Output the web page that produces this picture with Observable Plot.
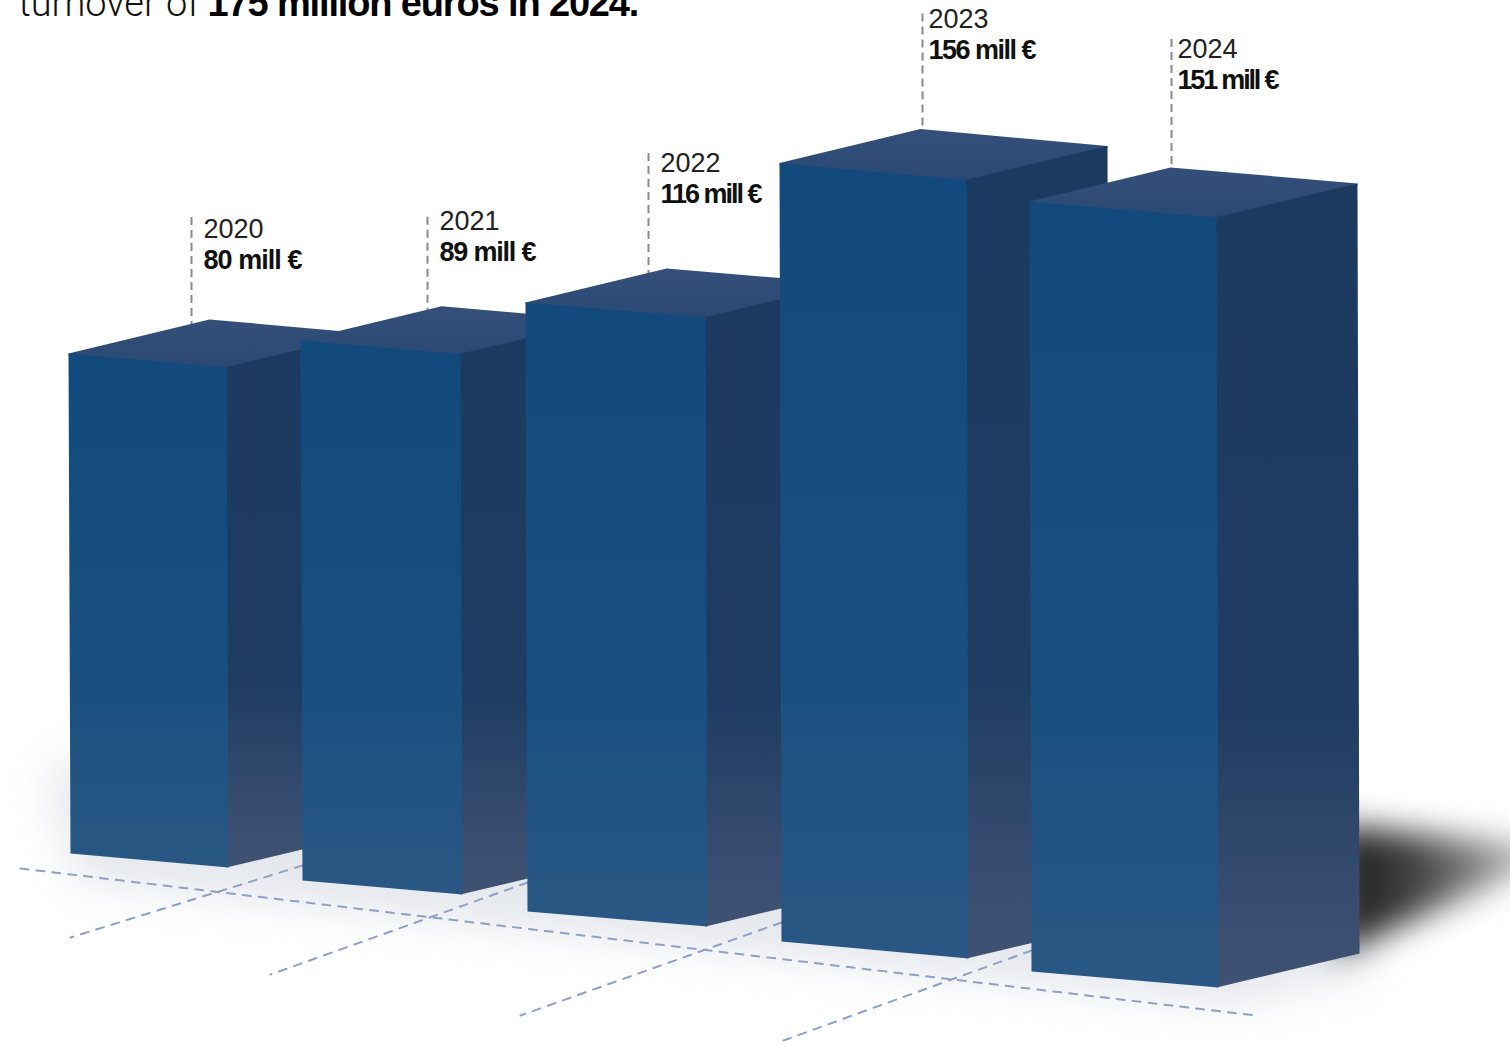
<!DOCTYPE html>
<html>
<head>
<meta charset="utf-8">
<script src="https://cdn.jsdelivr.net/npm/d3@7"></script>
<script src="https://cdn.jsdelivr.net/npm/@observablehq/plot@0.6"></script>
<style>
html,body{margin:0;padding:0;background:#fff;overflow:hidden}
svg{display:block}
.title-bold text{letter-spacing:-0.03em}
</style>
</head>
<body>
<div id="chart"></div>
<script>
// Values
const years = [2020, 2021, 2022, 2023, 2024];
const turnover = [80, 89, 116, 156, 151];
const unit = "mill €";

// Picture perspective: drawn length of one million at each bar's depth
const perMillion = [6.25, 6.07, 5.25, 4.99, 5.1];

// Floor plan of the drawing
const floorX = [70, 302, 527, 781, 1031];
const floorY = [853, 880, 911, 941, 971];
const barWidth = [158, 160, 180, 187, 187];
const barSlope = [14, 14, 15, 17, 16];
const depthX = 141, depthY = -34, lean = 2;
const crossRise = [15, 29, 19, 21];
const crossDX = [-232, -257, -261, -248];
const crossDY = [57, 63, 74, 69];
const leaderShift = [-18, -14, -18, 2, 1];
const leaderLength = [104, 94, 115, 119, 129];
const labelGap = [12, 12, 12, 6, 6];
const labelDrop = [22, 18, 18, 18, 20];
const valueTextWidth = [99, 97, 102, 108, 102];

const bars = years.map((year, i) => {
  const h = turnover[i] * perMillion[i];
  const x = floorX[i], y = floorY[i], w = barWidth[i], s = barSlope[i];
  return {year, i, value: turnover[i], x, y, w, s, h, top: y - h};
});
const face = (pts) => pts.map(([x, y]) => ({x, y}));

function barMarks(b) {
  const {x, y, w, s, h} = b, t = y - h, o = 2;
  const front = face([[x - lean, t], [x + w - lean, t + s], [x + w, y + s], [x, y]]);
  const side = face([[x + w - lean - o, t + s], [x + w - lean + depthX, t + s + depthY], [x + w + depthX, y + s + depthY], [x + w - o, y + s]]);
  const top = face([[x - lean, t], [x - lean, t + o], [x + w - lean, t + s + o], [x + w - lean + depthX, t + s + depthY + o], [x + w - lean + depthX, t + s + depthY], [x - lean + depthX, t + depthY]]);
  return [
    Plot.line(top, {x: "x", y: "y", fill: "url(#top)", stroke: "none"}),
    Plot.line(side, {x: "x", y: "y", fill: "url(#side)", stroke: "none"}),
    Plot.line(front, {x: "x", y: "y", fill: "url(#front)", stroke: "none"})
  ];
}

// Floor guides
const longGuide = face([[20, 868], [1255, 1015]]);
const crossGuides = bars.slice(1).map((b, k) => face([
  [b.x, b.y - crossRise[k]],
  [b.x + crossDX[k], b.y + crossDY[k]]
]));
const guideStyle = {x: "x", y: "y", stroke: "#8fa0c4", strokeWidth: 2, strokeDasharray: "8 8"};

// Soft shadows
const floorShade = face([[45, 775], [75, 880], [1230, 1005], [1375, 970], [1340, 900], [70, 760]]);
const castShadow = face([[1335, 824], [1540, 846], [1540, 862], [1335, 955]]);

// Leader lines
const leaders = bars.map((b, i) => {
  const by = b.top + depthY;
  return {
    x: b.x - lean + depthX + leaderShift[i],
    y1: by + 10,
    y2: by - leaderLength[i]
  };
});

const labels = bars.map((b, i) => ({
  year: String(b.year),
  text: `${b.value} ${unit}`,
  x: leaders[i].x + labelGap[i],
  y: leaders[i].y2 + labelDrop[i]
}));

const plot = Plot.plot({
  width: 1510, height: 1045,
  margin: 0,
  x: {domain: [0, 1510], range: [0, 1510], axis: null},
  y: {domain: [0, 1045], range: [0, 1045], axis: null},
  style: {background: "#fff", overflow: "hidden"},
  marks: [
    Plot.line(floorShade, {x: "x", y: "y", fill: "#e4e7ec", stroke: "none", imageFilter: "blur(22px)"}),
    Plot.line(castShadow, {x: "x", y: "y", fill: "url(#cast)", stroke: "none", imageFilter: "blur(16px)"}),
    Plot.line(longGuide, guideStyle),
    ...crossGuides.map(g => Plot.line(g, guideStyle)),
    Plot.ruleX(leaders, {x: "x", y1: "y1", y2: "y2", stroke: "#8a8a8a", strokeWidth: 2, strokeDasharray: "8 5"}),
    ...bars.flatMap(barMarks),
    Plot.text(labels, {x: "x", y: "y", text: "year", textAnchor: "start", lineAnchor: "bottom", fontSize: 27, fontWeight: 300, fontFamily: "Liberation Sans", fill: "#222"}),
    Plot.text(labels, {x: "x", y: d => d.y + 31, text: "text", textAnchor: "start", lineAnchor: "bottom", fontSize: 27, fontWeight: 700, fontFamily: "Liberation Sans", fill: "#111", className: "value-label"}),
    Plot.text(["turnover of"], {x: () => 18, y: () => 15, text: d => d, textAnchor: "start", lineAnchor: "bottom", fontSize: 38, fontWeight: 300, fontFamily: "Roboto", fill: "#111"}),
    Plot.text(["175 million euros in 2024."], {x: () => 207, y: () => 15, text: d => d, textAnchor: "start", lineAnchor: "bottom", fontSize: 38, fontWeight: 700, fontFamily: "Liberation Sans", fill: "#000", className: "title-bold"})
  ]
});

d3.select(plot).selectAll(".value-label text").each(function (_, i) {
  d3.select(this).attr("textLength", valueTextWidth[i]).attr("lengthAdjust", "spacing");
});

const defs = d3.select(plot).insert("defs", ":first-child");
function grad(id, stops, horizontal) {
  const g = defs.append("linearGradient").attr("id", id)
    .attr("x1", 0).attr("y1", 0).attr("x2", horizontal ? 1 : 0).attr("y2", horizontal ? 0 : 1);
  stops.forEach(([o, c]) => g.append("stop").attr("offset", o).attr("stop-color", c));
}
grad("front", [[0, "#134a7d"], [0.6, "#174f80"], [1, "#2a5783"]]);
grad("side", [[0, "#1c3a5f"], [0.66, "#1f3d62"], [0.9, "#384d70"], [1, "#3f5273"]]);
grad("top", [[0, "#34507a"], [1, "#2a4873"]]);
grad("cast", [[0, "#1e1e1e"], [0.35, "#3c3c3c"], [0.8, "#9a9a9a"], [1, "#c4c4c4"]], true);
document.getElementById("chart").appendChild(plot);
</script>
</body>
</html>
